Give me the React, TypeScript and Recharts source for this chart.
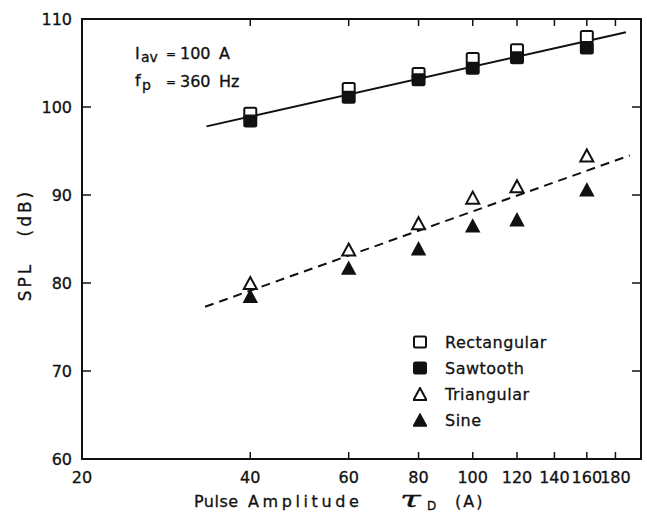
import React from 'react';
import { ScatterChart, Scatter, XAxis, YAxis, ReferenceArea, Legend } from 'recharts';

// pulse amplitude (A) and measured SPL (dB) per waveform
const amplitudes = [40, 60, 80, 100, 120, 160];
const rectangular = [99.3, 102.1, 103.8, 105.5, 106.5, 108.0];
const sawtooth = [98.4, 101.1, 103.1, 104.4, 105.6, 106.7];
const triangular = [80.0, 83.8, 86.8, 89.7, 91.0, 94.5];
const sine = [78.5, 81.7, 83.9, 86.5, 87.2, 90.6];

// fitted lines (end points)
const solidFitX = [33.4, 188];
const solidFitY = [97.8, 108.5];
const dashedFitX = [33.2, 191];
const dashedFitY = [77.3, 94.5];

const xTicks = [20, 40, 60, 80, 100, 120, 140, 160, 180];
const yTicks = [60, 70, 80, 90, 100, 110];
const seriesNames = ['Rectangular', 'Sawtooth', 'Triangular', 'Sine'];

const W = 647;
const H = 514;
const PLOT_TOP = 19;
const PLOT_RIGHT = 641;
const FONT = '"DejaVu Sans", sans-serif';
const INK = '#111';

const toPoints = (xs: number[], ys: number[]) => xs.map((x, i) => ({ x, y: ys[i] }));

const OpenSquare = (p: any) => (
	<rect x={p.cx - 6} y={p.cy - 5.5} width={12} height={11} rx={1.5} fill='#fff' stroke={INK} strokeWidth={2} />
);
const FilledSquare = (p: any) => (
	<rect x={p.cx - 6} y={p.cy - 5.5} width={12} height={11} rx={1.5} fill={INK} stroke={INK} strokeWidth={2} />
);
const triPath = (cx: number, cy: number) => `M${cx},${cy - 6} L${cx + 6.5},${cy + 6} L${cx - 6.5},${cy + 6} Z`;
const OpenTriangle = (p: any) => (
	<path d={triPath(p.cx, p.cy)} fill='#fff' stroke={INK} strokeWidth={2} strokeLinejoin='miter' />
);
const FilledTriangle = (p: any) => (
	<path d={triPath(p.cx, p.cy)} fill={INK} stroke={INK} strokeWidth={1.5} />
);
const NoShape = () => <g />;

const XTick = (props: any) => {
	const { x, y, payload } = props;
	return (
		<g>
			<line x1={x} x2={x} y1={y} y2={y - 7} stroke={INK} strokeWidth={1.5} />
			<line x1={x} x2={x} y1={PLOT_TOP} y2={PLOT_TOP + 7} stroke={INK} strokeWidth={1.5} />
			<text x={x} y={y + 24} textAnchor='middle' fontSize={16} fill={INK} stroke={INK} strokeWidth={0.3} fontFamily={FONT}>
				{payload.value}
			</text>
		</g>
	);
};

const YTick = (props: any) => {
	const { x, y, payload } = props;
	return (
		<g>
			<line x1={x} x2={x + 9} y1={y} y2={y} stroke={INK} strokeWidth={1.5} />
			<line x1={PLOT_RIGHT - 9} x2={PLOT_RIGHT} y1={y} y2={y} stroke={INK} strokeWidth={1.5} />
			<text x={x - 10} y={y} dy='0.36em' textAnchor='end' fontSize={16} fill={INK} stroke={INK} strokeWidth={0.3} fontFamily={FONT}>
				{payload.value}
			</text>
		</g>
	);
};

const legendIcons = [
	<rect x={1} y={1.5} width={12} height={11} rx={1.5} fill='#fff' stroke={INK} strokeWidth={2} />,
	<rect x={1} y={1.5} width={12} height={11} rx={1.5} fill={INK} stroke={INK} strokeWidth={2} />,
	<path d={triPath(7, 7)} fill='#fff' stroke={INK} strokeWidth={2} />,
	<path d={triPath(7, 7)} fill={INK} stroke={INK} strokeWidth={1.5} />,
];

const renderLegend = () => (
	<div style={{ fontFamily: FONT, fontSize: 16, color: INK, WebkitTextStroke: '0.3px #111' }}>
		{seriesNames.map((name, i) => (
			<div key={name} style={{ display: 'flex', alignItems: 'center', height: 26 }}>
				<svg width={14} height={14} style={{ marginRight: 18 }}>
					{legendIcons[i]}
				</svg>
				<span style={{ letterSpacing: 0.5 }}>{name}</span>
			</div>
		))}
	</div>
);

export default function App() {
	return (
		<div style={{ position: 'absolute', left: 0, top: 0, width: W, height: H, background: '#fff' }}>
			<ScatterChart width={W} height={H} margin={{ top: PLOT_TOP, right: W - PLOT_RIGHT, bottom: 15, left: 0 }}>
				<XAxis
					dataKey='x'
					type='number'
					scale='log'
					domain={[20, 200]}
					ticks={xTicks}
					interval={0}
					allowDataOverflow
					axisLine={false}
					tickLine={false}
					tickSize={0}
					tickMargin={0}
					height={40}
					tick={XTick}
				/>
				<YAxis
					dataKey='y'
					type='number'
					domain={[60, 110]}
					ticks={yTicks}
					interval={0}
					allowDataOverflow
					axisLine={false}
					tickLine={false}
					tickSize={0}
					tickMargin={0}
					width={82}
					tick={YTick}
				/>
				<ReferenceArea x1={20} x2={200} y1={60} y2={110} fill='none' stroke={INK} strokeWidth={2} ifOverflow='visible' />
				<Scatter
					data={toPoints(solidFitX, solidFitY)}
					line={{ stroke: INK, strokeWidth: 2 }}
					shape={NoShape}
					legendType='none'
					isAnimationActive={false}
				/>
				<Scatter
					data={toPoints(dashedFitX, dashedFitY)}
					line={{ stroke: INK, strokeWidth: 2, strokeDasharray: '9 6' }}
					shape={NoShape}
					legendType='none'
					isAnimationActive={false}
				/>
				<Scatter name={seriesNames[0]} data={toPoints(amplitudes, rectangular)} shape={OpenSquare} isAnimationActive={false} />
				<Scatter name={seriesNames[1]} data={toPoints(amplitudes, sawtooth)} shape={FilledSquare} isAnimationActive={false} />
				<Scatter name={seriesNames[2]} data={toPoints(amplitudes, triangular)} shape={OpenTriangle} isAnimationActive={false} />
				<Scatter name={seriesNames[3]} data={toPoints(amplitudes, sine)} shape={FilledTriangle} isAnimationActive={false} />
				<Legend
					layout='vertical'
					align='center'
					verticalAlign='middle'
					wrapperStyle={{ left: 413, top: 329, width: 'auto' }}
					content={renderLegend}
				/>
			</ScatterChart>
			<svg
				width={W}
				height={H}
				style={{ position: 'absolute', left: 0, top: 0, pointerEvents: 'none' }}
				fontFamily={FONT}
				fill={INK}
				stroke={INK}
				strokeWidth={0.3}
			>
				<text x={135} y={59} fontSize={16}>I</text>
				<text x={141} y={62} fontSize={14}>av</text>
				<text x={166} y={58} fontSize={12}>=</text>
				<text x={180} y={59} fontSize={16}>100</text>
				<text x={219} y={59} fontSize={16}>A</text>
				<text x={135} y={86} fontSize={16}>f</text>
				<text x={142} y={90} fontSize={14}>p</text>
				<text x={166} y={86} fontSize={12}>=</text>
				<text x={180} y={87} fontSize={16}>360</text>
				<text x={219} y={87} fontSize={16}>Hz</text>
				<text
					transform='translate(31,245) rotate(-90)'
					textAnchor='middle'
					fontSize={17}
					letterSpacing={3}
				>
					SPL {'\u00a0\u00a0'}(dB)
				</text>
				<text x={194} y={507} fontSize={16} letterSpacing={0.5}>Pulse</text>
				<text x={248} y={507} fontSize={16} letterSpacing={3.6}>Amplitude</text>
				<text
					transform='translate(400,507) scale(1.7,1)'
					fontSize={22}
					fontStyle='italic'
					fontFamily='"DejaVu Serif", serif'
				>
					τ
				</text>
				<text x={427} y={510} fontSize={12}>D</text>
				<text x={455} y={507} fontSize={16} letterSpacing={2}>(A)</text>
			</svg>
		</div>
	);
}
